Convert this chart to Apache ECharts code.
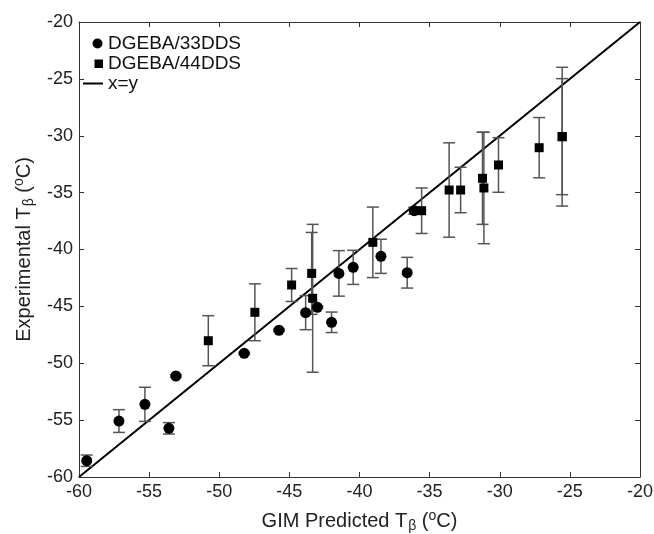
<!DOCTYPE html>
<html>
<head>
<meta charset="utf-8">
<script src="https://cdn.jsdelivr.net/npm/echarts@6/dist/echarts.min.js"></script>
<style>html,body{margin:0;padding:0;background:#fff}#c{width:654px;height:534px}</style>
</head>
<body>
<div id="c"></div>
<script>
// DGEBA/33DDS (circles)
const c33X   = [-59.45, -57.15, -55.3, -53.59, -53.09, -48.22, -45.74, -43.84, -43.0, -41.99, -41.47, -40.45, -38.47, -36.6, -36.1];
const c33Y   = [-58.57, -55.08, -53.61, -55.72, -51.12, -49.13, -47.1, -45.55, -45.08, -46.4, -42.1, -41.57, -40.6, -42.04, -36.59];
const c33Err = [0.5, 1.0, 1.5, 0.5, 0.1, 0.1, 0.1, 1.5, 0.1, 0.9, 2.0, 1.5, 1.5, 1.35, 0.3];
// DGEBA/44DDS (squares)
const s44X   = [-50.78, -47.46, -44.84, -43.41, -43.34, -39.05, -35.57, -33.61, -32.79, -31.23, -31.13, -30.09, -27.19, -25.55, -25.55];
const s44Y   = [-48.02, -45.52, -43.12, -42.1, -44.29, -39.37, -36.59, -34.77, -34.77, -33.74, -34.59, -32.57, -31.05, -30.08, -30.08];
const s44Err = [2.2, 2.5, 1.45, 3.6, 6.5, 3.1, 2.0, 4.15, 2.0, 4.05, 4.9, 2.4, 2.65, 6.1, 5.1];
// x = y line
const lineX = [-60, -20];
const lineY = [-60, -20];
// axes
const axisMin = -60, axisMax = -20, axisStep = 5;
const seriesNames = ['DGEBA/33DDS', 'DGEBA/44DDS', 'x=y'];

const FONT = 'Liberation Sans, Arial, Helvetica, sans-serif';
const chart = echarts.init(document.getElementById('c'), null, {renderer: 'canvas'});

function errData(xs, ys, es) { return xs.map((x, i) => [x, ys[i], es[i]]); }
function renderErr(params, api) {
  const x = api.value(0), y = api.value(1), e = api.value(2);
  const top = api.coord([x, y + e]);
  const bot = api.coord([x, y - e]);
  const hw = 6;
  const st = {stroke: '#555', lineWidth: 1.5};
  return {
    type: 'group',
    children: [
      {type: 'line', shape: {x1: top[0], y1: top[1], x2: bot[0], y2: bot[1]}, style: st},
      {type: 'line', shape: {x1: top[0] - hw, y1: top[1], x2: top[0] + hw, y2: top[1]}, style: st},
      {type: 'line', shape: {x1: bot[0] - hw, y1: bot[1], x2: bot[0] + hw, y2: bot[1]}, style: st}
    ]
  };
}

const axisCommon = {
  type: 'value', min: axisMin, max: axisMax, interval: axisStep,
  axisLine: {show: true, onZero: false, lineStyle: {color: '#333', width: 1}},
  axisTick: {show: true, inside: true, length: 5, lineStyle: {color: '#333'}},
  splitLine: {show: false}
};

const richName = {
  a: {fontFamily: FONT, fontSize: 20, color: '#222'},
  sub: {fontFamily: FONT, fontSize: 14, color: '#222', verticalAlign: 'bottom', padding: [10, 0, 0, 1]},
  sup: {fontFamily: FONT, fontSize: 14, color: '#222', verticalAlign: 'top', padding: [0, 0, 9, 0]}
};

chart.setOption({
  animation: false,
  backgroundColor: '#fff',
  grid: {left: 79, right: 14, top: 22, bottom: 57, containLabel: false, outerBoundsMode: 'none'},
  legend: {
    orient: 'vertical', left: 78, top: 29, itemGap: 1,
    itemWidth: 20, itemHeight: 11, symbolKeepAspect: true,
    textStyle: {fontFamily: FONT, fontSize: 19, color: '#111'},
    data: [
      {name: seriesNames[0], icon: 'path://M0,0 M20,11 M9.5,5.5 A5,5 0 1 1 19.5,5.5 A5,5 0 1 1 9.5,5.5 Z'},
      {name: seriesNames[1], icon: 'path://M0,0 M20,11 M11.5,1.5 L20,1.5 L20,10 L11.5,10 Z'},
      {name: seriesNames[2], icon: 'path://M0,0 M20,11 M0,4.5 L20,4.5 L20,6.5 L0,6.5 Z'}
    ]
  },
  xAxis: [
    Object.assign({}, axisCommon, {
      position: 'bottom',
      name: '{a|GIM Predicted T}{sub|β}{a| (}{sup|o}{a|C)}',
      nameLocation: 'middle', nameGap: 32,
      nameTextStyle: {rich: richName},
      axisLabel: {fontFamily: FONT, fontSize: 18, color: '#222', margin: 6}
    }),
    Object.assign({}, axisCommon, {position: 'top', axisLabel: {show: false}})
  ],
  yAxis: [
    Object.assign({}, axisCommon, {
      position: 'left',
      name: '{a|Experimental T}{sub|β}{a| (}{sup|o}{a|C)}',
      nameLocation: 'middle', nameGap: 42, nameRotate: 90,
      nameTextStyle: {rich: richName},
      axisLabel: {fontFamily: FONT, fontSize: 18, color: '#222', margin: 6}
    }),
    Object.assign({}, axisCommon, {position: 'right', axisLabel: {show: false}})
  ],
  series: [
    {type: 'line', name: seriesNames[2], data: lineX.map((x, i) => [x, lineY[i]]),
     showSymbol: false, symbol: 'none', lineStyle: {color: '#000', width: 2}, itemStyle: {color: '#000'}, z: 1},
    {type: 'custom', name: 'err33', renderItem: renderErr, data: errData(c33X, c33Y, c33Err), z: 2, silent: true},
    {type: 'custom', name: 'err44', renderItem: renderErr, data: errData(s44X, s44Y, s44Err), z: 2, silent: true},
    {type: 'scatter', name: seriesNames[0], data: c33X.map((x, i) => [x, c33Y[i]]),
     symbol: 'circle', symbolSize: 11, itemStyle: {color: '#000', opacity: 1}, z: 3},
    {type: 'scatter', name: seriesNames[1], data: s44X.map((x, i) => [x, s44Y[i]]),
     symbol: 'rect', symbolSize: 9, itemStyle: {color: '#000', opacity: 1}, z: 3}
  ]
});
</script>
</body>
</html>
